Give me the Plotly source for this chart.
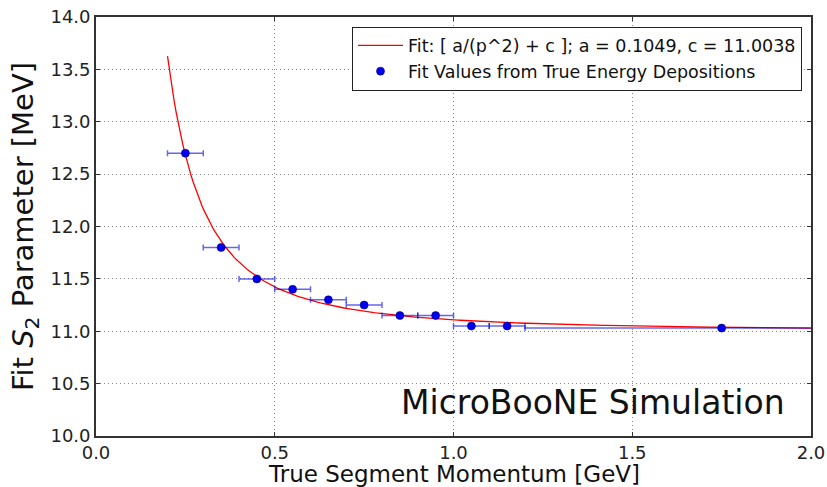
import numpy as np
import plotly.graph_objects as go

# Measured points
p_centers = [0.25, 0.35, 0.45, 0.55, 0.65, 0.75, 0.85, 0.95, 1.05, 1.15, 1.75]
p_halfwidth = [0.05, 0.05, 0.05, 0.05, 0.05, 0.05, 0.05, 0.05, 0.05, 0.05, 0.55]
s2_values = [12.70, 11.80, 11.50, 11.40, 11.30, 11.25, 11.15, 11.15, 11.05, 11.05, 11.03]

# Fit parameters stated in the legend
fit_a = 0.1049
fit_c = 11.0038
fit_range = [0.2, 2.0]

x_ticks = [0.0, 0.5, 1.0, 1.5, 2.0]
y_ticks = [10.0, 10.5, 11.0, 11.5, 12.0, 12.5, 13.0, 13.5, 14.0]

FONT = "DejaVu Sans"

p_fit = np.linspace(fit_range[0], fit_range[1], 300)
s2_fit = fit_a / p_fit**2 + fit_c

fig = go.Figure()
fig.add_trace(go.Scatter(
    x=p_fit, y=s2_fit, mode="lines",
    line=dict(color="red", width=1.3),
    name=f"Fit: [ a/(p^2) + c ]; a = {fit_a}, c = {fit_c}",
))
fig.add_trace(go.Scatter(
    x=p_centers, y=s2_values, mode="markers",
    marker=dict(color="#0000ee", size=8, line=dict(color="#000080", width=0.6)),
    error_x=dict(type="data", array=p_halfwidth, color="rgba(0,0,225,0.6)",
                 thickness=1.5, width=3),
    name="Fit Values from True Energy Depositions",
))

axis_common = dict(
    showline=True, linecolor="#333333", linewidth=1.7, mirror="ticks",
    ticks="inside", ticklen=4, tickcolor="#333333",
    showgrid=True, gridcolor="#8a8a8a", griddash="1px,3px", gridwidth=1,
    zeroline=False,
    tickfont=dict(family=FONT, size=18, color="#222222"),
)

fig.update_xaxes(range=[0, 2.0], tickvals=x_ticks, tickformat=".1f", **axis_common)
fig.update_yaxes(
    range=[10, 14], tickvals=y_ticks, tickformat=".1f",
    title=dict(text="Fit <i>S</i><sub>2</sub> Parameter [MeV]",
               font=dict(family=FONT, size=29, color="#111111"), standoff=8),
    **axis_common,
)

# x-axis title as annotation so it can sit slightly lower than the margin allows
fig.add_annotation(
    text="True Segment Momentum [GeV]", xref="paper", yref="paper",
    x=0.5, y=(436 - 473.5) / 418.5, xanchor="center", yanchor="middle",
    showarrow=False, font=dict(family=FONT, size=23, color="#111111"),
)

fig.add_annotation(
    text="MicroBooNE Simulation", xref="paper", yref="paper",
    x=(787 - 96) / 715, y=(436 - 403) / 418.5, xanchor="right", yanchor="middle",
    showarrow=False, font=dict(family=FONT, size=33, color="#111111"),
)

fig.update_layout(
    width=827, height=487,
    margin=dict(l=96, r=16, t=17, b=51, autoexpand=False),
    paper_bgcolor="white", plot_bgcolor="white",
    font=dict(family=FONT),
    showlegend=True,
    legend=dict(
        x=(802 - 96) / 715, y=(436 - 27) / 418.5, xanchor="right", yanchor="top",
        bgcolor="white", bordercolor="#222222", borderwidth=1,
        font=dict(family=FONT, size=17.5, color="#111111"),
        itemwidth=45, tracegroupgap=0,
    ),
)

fig.write_html("out.html")
